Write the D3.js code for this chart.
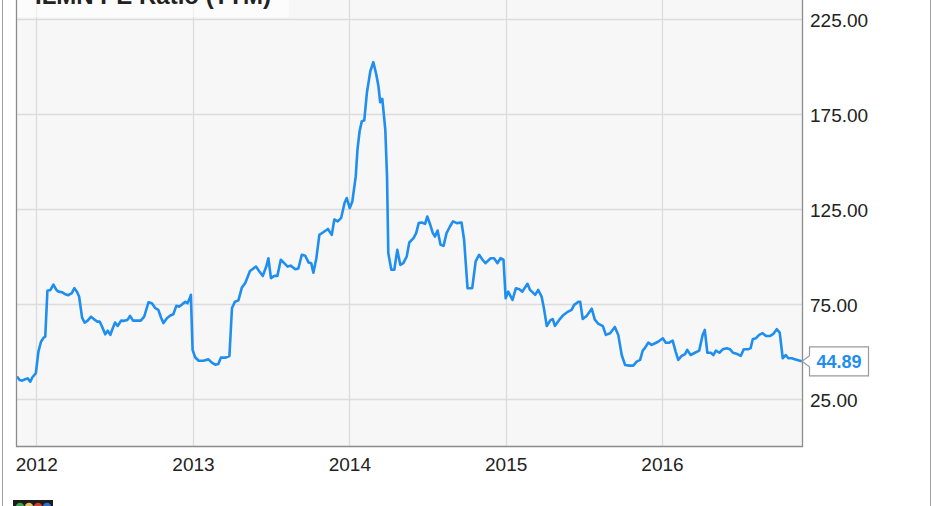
<!DOCTYPE html>
<html>
<head>
<meta charset="utf-8">
<script src="https://cdn.jsdelivr.net/npm/d3@7/dist/d3.min.js"></script>
<style>
  html, body { margin: 0; padding: 0; background: #ffffff; }
  svg { display: block; font-family: "Liberation Sans", Arial, sans-serif; }
</style>
</head>
<body>
<svg id="chart" width="931" height="506"></svg>
<script>
const title = "ILMN PE Ratio (TTM)";
const yearTicks = ["2012-01-01", "2013-01-01", "2014-01-01", "2015-01-01", "2016-01-01"];
const valueTicks = [25, 75, 125, 175, 225];
const lastValue = 44.89;

const dates = [
  "2011-11-17","2011-11-23","2011-11-29","2011-12-06","2011-12-12","2011-12-18","2011-12-23","2011-12-31",
  "2012-01-06","2012-01-12","2012-01-18","2012-01-22","2012-01-27","2012-02-03","2012-02-10","2012-02-17",
  "2012-02-22","2012-03-01","2012-03-09","2012-03-16","2012-03-24","2012-03-30","2012-04-05","2012-04-10",
  "2012-04-17","2012-04-23","2012-04-30","2012-05-08","2012-05-15","2012-05-22","2012-05-28","2012-06-02",
  "2012-06-10","2012-06-16","2012-06-22","2012-06-26","2012-07-03","2012-07-09","2012-07-17","2012-07-24",
  "2012-08-01","2012-08-07","2012-08-14","2012-08-23","2012-09-01","2012-09-09","2012-09-19","2012-09-27",
  "2012-10-05","2012-10-12","2012-10-18","2012-10-24","2012-11-01","2012-11-09","2012-11-16","2012-11-23",
  "2012-11-30","2012-12-07","2012-12-14","2012-12-19","2012-12-24","2012-12-27","2012-12-31",
  "2013-01-06","2013-01-14","2013-01-25","2013-02-06","2013-02-14","2013-02-22","2013-03-01","2013-03-07",
  "2013-03-17","2013-03-27","2013-04-02","2013-04-09","2013-04-17","2013-04-25","2013-05-03","2013-05-14",
  "2013-05-28","2013-06-05","2013-06-13","2013-06-21","2013-06-26","2013-07-02","2013-07-10","2013-07-17",
  "2013-07-25","2013-08-02","2013-08-10","2013-08-17","2013-08-28","2013-09-04","2013-09-12","2013-09-20",
  "2013-09-28","2013-10-04","2013-10-09","2013-10-16","2013-10-23","2013-11-02","2013-11-12","2013-11-21",
  "2013-11-27","2013-12-05","2013-12-13","2013-12-21","2013-12-26",
  "2014-01-02","2014-01-08","2014-01-16","2014-01-20","2014-01-25","2014-01-30","2014-02-05","2014-02-11",
  "2014-02-19","2014-02-26","2014-03-05","2014-03-10","2014-03-14","2014-03-19","2014-03-26","2014-03-30",
  "2014-04-02","2014-04-09","2014-04-16","2014-04-23","2014-04-30","2014-05-07","2014-05-15","2014-05-21",
  "2014-05-31","2014-06-06","2014-06-12","2014-06-19","2014-06-27","2014-07-02","2014-07-09","2014-07-15",
  "2014-07-20","2014-07-26","2014-08-02","2014-08-09","2014-08-16","2014-08-24","2014-08-31","2014-09-09",
  "2014-09-20","2014-09-26","2014-10-04","2014-10-15","2014-10-23","2014-10-31","2014-11-08","2014-11-15",
  "2014-11-27","2014-12-05","2014-12-13","2014-12-20","2014-12-27",
  "2015-01-01","2015-01-07","2015-01-11","2015-01-17","2015-01-25","2015-02-02","2015-02-09","2015-02-21",
  "2015-02-27","2015-03-11","2015-03-18","2015-03-26","2015-04-01","2015-04-07","2015-04-16","2015-04-21",
  "2015-04-26","2015-05-06","2015-05-16","2015-05-27","2015-06-04","2015-06-10","2015-06-20","2015-06-24",
  "2015-06-30","2015-07-09","2015-07-21","2015-07-28","2015-08-05","2015-08-16","2015-08-23","2015-09-02",
  "2015-09-13","2015-09-21","2015-09-29","2015-10-07","2015-10-17","2015-10-26","2015-11-03","2015-11-11",
  "2015-11-17","2015-11-22","2015-11-30","2015-12-08","2015-12-16","2015-12-23",
  "2016-01-03","2016-01-10","2016-01-18","2016-01-26","2016-02-02","2016-02-08","2016-02-16","2016-02-24",
  "2016-02-29","2016-03-08","2016-03-18","2016-03-28","2016-04-05","2016-04-10","2016-04-16","2016-04-24",
  "2016-04-30","2016-05-06","2016-05-14","2016-05-22","2016-05-31","2016-06-08","2016-06-15","2016-06-25",
  "2016-07-03","2016-07-10","2016-07-20","2016-07-26","2016-07-31","2016-08-07","2016-08-15","2016-08-23",
  "2016-08-31","2016-09-09","2016-09-17","2016-09-25","2016-10-02","2016-10-09","2016-10-16","2016-10-22",
  "2016-10-30","2016-11-06","2016-11-18","2016-11-23"
];

const peValues = [
  36.8,35.0,34.7,35.4,35.9,34.1,36.5,38.6,
  50.0,55.2,57.3,57.9,82.1,82.5,85.3,82.5,
  81.6,81.3,80.2,79.7,80.8,83.4,81.5,79.0,
  67.9,65.2,66.3,68.4,67.1,65.8,65.8,63.5,
  59.1,61.0,58.8,61.4,65.3,63.5,66.3,66.2,
  66.7,68.8,66.3,66.3,66.3,68.4,76.0,75.5,
  72.9,72.0,68.1,65.0,67.6,69.0,69.7,74.1,
  73.7,75.0,76.2,75.5,77.9,79.9,50.9,
  47.0,45.2,45.2,45.9,44.2,43.1,43.5,46.8,
  46.8,47.7,73.0,76.3,77.0,83.7,86.1,92.5,
  94.8,92.2,89.9,94.8,99.2,88.7,89.9,89.9,
  98.4,96.6,94.8,95.3,93.4,93.8,101.0,100.5,
  96.9,96.6,91.6,99.2,111.5,113.0,114.6,111.5,
  119.6,118.6,120.5,128.4,130.9,
  125.6,129.1,142.3,156.4,166.1,171.3,171.9,186.3,
  197.7,202.5,196.0,189.8,181.4,183.2,167.0,142.3,
  101.9,93.1,93.1,103.6,95.7,96.6,100.1,107.5,
  109.8,112.4,117.7,118.0,117.3,121.2,116.8,112.4,
  110.6,113.8,106.3,105.7,112.4,115.9,118.6,117.7,
  118.0,108.9,83.4,83.4,97.5,101.0,98.4,96.6,
  99.2,99.2,96.6,99.2,98.4,
  78.1,81.6,79.9,77.2,83.4,82.9,81.6,85.7,
  82.5,79.9,82.5,79.0,72.0,63.5,66.7,67.1,
  63.5,66.7,69.3,71.1,72.0,74.6,76.3,76.3,
  67.2,68.8,72.6,67.0,64.7,63.4,58.8,59.7,
  63.0,58.8,48.2,42.9,42.6,42.6,44.7,45.6,
  50.5,51.8,54.7,53.5,54.4,55.2,
  57.0,54.7,54.7,55.8,50.0,45.6,47.7,48.7,
  50.9,48.2,49.4,50.5,58.8,61.4,49.4,49.4,
  48.2,50.5,49.4,51.2,51.8,51.2,49.4,48.7,
  47.7,51.2,51.2,51.8,56.5,57.0,58.8,59.7,
  58.2,58.2,59.3,61.8,60.0,46.5,48.2,46.5,
  46.5,46.0,45.2,44.89
];

const parse = d3.timeParse("%Y-%m-%d");
const data = dates.map((d, i) => ({ date: parse(d), value: peValues[i] }));

const svg = d3.select("#chart");
const plotLeft = 17, plotRight = 802, plotTop = -28, plotBottom = 446.5;

const x = d3.scaleTime()
  .domain([parse("2011-11-17"), parse("2016-11-23")])
  .range([plotLeft, plotRight]);
const y = d3.scaleLinear()
  .domain([0, 250])
  .range([plotBottom, plotTop]);

// outer frame lines
svg.append("line").attr("x1", 2.5).attr("x2", 2.5).attr("y1", 0).attr("y2", 506)
  .attr("stroke", "#a0a0a0").attr("stroke-width", 1);
svg.append("line").attr("x1", 930.5).attr("x2", 930.5).attr("y1", 0).attr("y2", 506)
  .attr("stroke", "#a0a0a0").attr("stroke-width", 1);

// plot background
svg.append("rect")
  .attr("x", plotLeft).attr("y", plotTop)
  .attr("width", plotRight - plotLeft).attr("height", plotBottom - plotTop)
  .attr("fill", "#f7f7f7");

// gridlines
const yearDates = yearTicks.map(parse);
svg.append("g").selectAll("line").data(yearDates).join("line")
  .attr("x1", d => Math.round(x(d)) + 0.5).attr("x2", d => Math.round(x(d)) + 0.5)
  .attr("y1", plotTop).attr("y2", plotBottom)
  .attr("stroke", "#dcdcdc").attr("stroke-width", 1.3);
svg.append("g").selectAll("line").data(valueTicks).join("line")
  .attr("x1", plotLeft).attr("x2", plotRight)
  .attr("y1", d => Math.round(y(d)) + 0.5).attr("y2", d => Math.round(y(d)) + 0.5)
  .attr("stroke", "#dcdcdc").attr("stroke-width", 1.3);

// title box (partially cropped at top, as in the reference)
svg.append("rect")
  .attr("x", plotLeft).attr("y", -10).attr("width", 272).attr("height", 27)
  .attr("fill", "#ffffff").attr("opacity", 0.6);
svg.append("text")
  .attr("x", 35).attr("y", 4)
  .attr("font-size", 24).attr("font-weight", "bold").attr("fill", "#222")
  .text(title);

// line
const line = d3.line().x(d => x(d.date)).y(d => y(d.value));
svg.append("path").datum(data)
  .attr("d", line)
  .attr("fill", "none")
  .attr("stroke", "#1f8ef1")
  .attr("stroke-width", 2.6)
  .attr("stroke-linejoin", "round");

// plot border (left, bottom, right)
svg.append("path")
  .attr("d", `M${plotLeft - 0.5},${plotTop} V${plotBottom} H${plotRight + 0.5} V${plotTop}`)
  .attr("fill", "none").attr("stroke", "#8c8c8c").attr("stroke-width", 1.3);

// x axis labels
const xAxis = d3.axisBottom(x).tickValues(yearDates).tickSize(0).tickPadding(0)
  .tickFormat(d3.timeFormat("%Y"));
const gx = svg.append("g").attr("transform", `translate(0,${plotBottom})`).call(xAxis);
gx.select(".domain").remove();
gx.selectAll("text").attr("font-size", 19).attr("fill", "#222")
  .attr("font-family", "Liberation Sans, Arial, sans-serif")
  .attr("dy", null).attr("y", 24.5);

// y axis labels (right)
const yAxis = d3.axisRight(y).tickValues(valueTicks).tickSize(0).tickPadding(0)
  .tickFormat(d3.format(".2f"));
const gy = svg.append("g").attr("transform", `translate(${plotRight + 8},0)`).call(yAxis);
gy.select(".domain").remove();
gy.selectAll("text").attr("font-size", 19).attr("fill", "#222")
  .attr("font-family", "Liberation Sans, Arial, sans-serif")
  .attr("dy", null).attr("y", 7);

// last value callout
const ly = y(lastValue);
const bx = 809.5, bw = 59, bh = 29;
svg.append("path")
  .attr("d", `M${bx},${ly - bh / 2} H${bx + bw} V${ly + bh / 2} H${bx} V${ly + 5.5} L${plotRight},${ly} L${bx},${ly - 5.5} Z`)
  .attr("fill", "#ffffff").attr("stroke", "#9a9a9a").attr("stroke-width", 1.2);
svg.append("text")
  .attr("x", bx + bw / 2).attr("y", ly + 7)
  .attr("text-anchor", "middle")
  .attr("font-size", 18).attr("font-weight", "bold").attr("fill", "#1f8ef1")
  .text(d3.format(".2f")(lastValue));

// small logo at bottom-left (cropped)
const logo = svg.append("g").attr("transform", "translate(13,500)");
logo.append("rect").attr("width", 40).attr("height", 12).attr("fill", "#1d1d1d");
const logoColors = ["#3aa64a", "#e8c25a", "#d83a2e", "#2f6fcf"];
logo.selectAll("circle").data(logoColors).join("circle")
  .attr("cx", (d, i) => 7 + i * 9).attr("cy", 7).attr("r", 4.2).attr("fill", d => d);
</script>
</body>
</html>
